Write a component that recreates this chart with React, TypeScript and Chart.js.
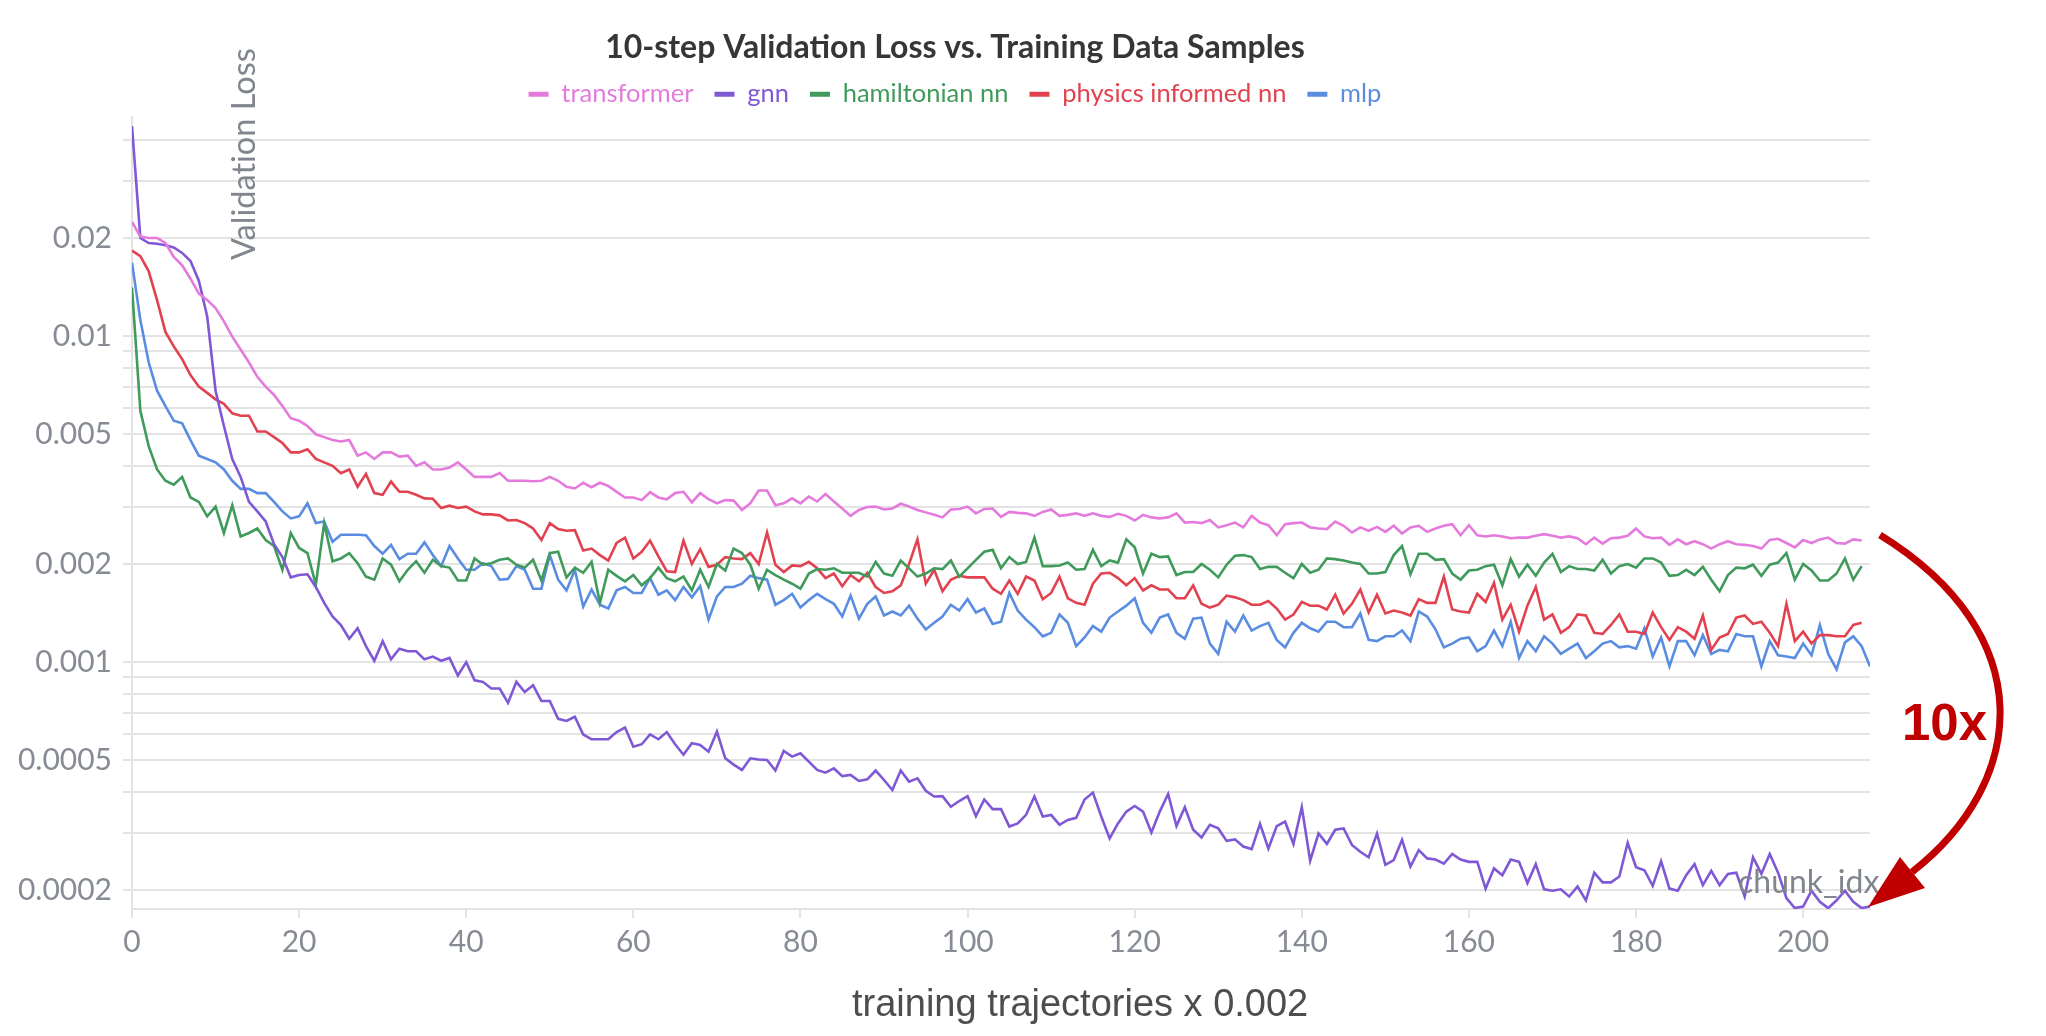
import React, { useEffect, useRef } from 'react';
import { Chart, registerables } from 'chart.js';

Chart.register(...registerables);

// ---------- data ----------
const steps: number[] = Array.from({ length: 209 }, (_, i) => i);

const transformer: number[] = [
  0.0224, 0.0202, 0.0200, 0.0200, 0.0193, 0.0175, 0.0165, 0.0150, 0.0135, 0.0129,
  0.0122, 0.0111, 0.00996, 0.0091, 0.0083, 0.0075, 0.0070, 0.0066, 0.0061, 0.0056,
  0.0055, 0.0053, 0.0050, 0.0049, 0.0048, 0.00475, 0.0048, 0.0043, 0.0044, 0.0042,
  0.0044, 0.0044, 0.00427, 0.0043, 0.0040, 0.0041, 0.0039, 0.0039, 0.00395, 0.0041,
  0.0039, 0.0037, 0.0037, 0.0037, 0.0038, 0.0036, 0.0036, 0.0036, 0.00359, 0.0036,
  0.0037, 0.0036, 0.00345, 0.00341, 0.00355, 0.00344, 0.00355, 0.00347, 0.00333, 0.0032,
  0.0032, 0.00314, 0.00332, 0.0032, 0.00316, 0.0033, 0.00333, 0.00309, 0.0033, 0.00316,
  0.00307, 0.00314, 0.00313, 0.00293, 0.00307, 0.00336, 0.00336, 0.00303, 0.00307, 0.00318,
  0.00307, 0.00322, 0.00311, 0.00328, 0.00311, 0.00296, 0.00281, 0.00293, 0.00299, 0.003,
  0.00294, 0.00296, 0.00306, 0.003, 0.00293, 0.00288, 0.00283, 0.00278, 0.00294, 0.00295,
  0.003, 0.00286, 0.00295, 0.00296, 0.00279, 0.00289, 0.00287, 0.00286, 0.00281, 0.00289,
  0.00294, 0.00281, 0.00283, 0.00286, 0.00281, 0.00286, 0.00281, 0.00279, 0.00285, 0.00281,
  0.00272, 0.00283, 0.00278, 0.00276, 0.00278, 0.00286, 0.00268, 0.00269, 0.00267, 0.00273,
  0.00259, 0.00263, 0.00268, 0.00259, 0.00281, 0.00268, 0.00263, 0.00245, 0.00265, 0.00267,
  0.00268, 0.00259, 0.00257, 0.00256, 0.0027, 0.00262, 0.0025, 0.00259, 0.00253, 0.0026,
  0.00251, 0.00262, 0.00248, 0.00259, 0.00262, 0.00251, 0.00257, 0.00262, 0.00265, 0.00245,
  0.00263, 0.00245, 0.00243, 0.00245, 0.00243, 0.0024, 0.00241, 0.00241, 0.00244, 0.00247,
  0.00244, 0.00241, 0.00243, 0.0024, 0.0023, 0.00241, 0.00231, 0.0024, 0.00241, 0.00244,
  0.00257, 0.00243, 0.0024, 0.00241, 0.00229, 0.00238, 0.0023, 0.00235, 0.0023, 0.00223,
  0.0023, 0.00235, 0.0023, 0.00229, 0.00227, 0.00223, 0.00237, 0.00239, 0.00232, 0.00225,
  0.00237, 0.00232, 0.00238, 0.00241, 0.00232, 0.00231, 0.00238, 0.00236,
];

const gnn: number[] = [
  0.0441, 0.0200, 0.0193, 0.0192, 0.0190, 0.0187, 0.0180, 0.0170, 0.0148, 0.0115,
  0.0068, 0.0053, 0.0042, 0.0037, 0.0031, 0.0029, 0.0027, 0.0023, 0.0021, 0.00182,
  0.00185, 0.00186, 0.0017, 0.00152, 0.00138, 0.0013, 0.00118, 0.00127, 0.00112, 0.00101,
  0.00116, 0.00102, 0.0011, 0.00108, 0.00108, 0.00102, 0.00104, 0.00101, 0.00103, 0.00091,
  0.001, 0.00088, 0.00087, 0.00083, 0.00083, 0.00075, 0.00087, 0.00081, 0.00085, 0.00076,
  0.00076, 0.00067, 0.00066, 0.00068, 0.0006, 0.00058, 0.00058, 0.00058, 0.00061, 0.00063,
  0.00055, 0.00056, 0.0006, 0.00058, 0.00061, 0.00056, 0.00052, 0.000564, 0.000557, 0.000531,
  0.000612, 0.000507, 0.000485, 0.000467, 0.000507, 0.000503, 0.000501, 0.000465, 0.000534, 0.000513,
  0.000525, 0.000495, 0.000467, 0.000458, 0.000472, 0.000447, 0.000451, 0.000432, 0.000437, 0.000465,
  0.000435, 0.000405, 0.000465, 0.00043, 0.00044, 0.000403, 0.000387, 0.000388, 0.00036, 0.000375,
  0.000388, 0.000337, 0.000379, 0.000354, 0.000354, 0.000313, 0.00032, 0.00034, 0.000387, 0.000336,
  0.00034, 0.000317, 0.000328, 0.000333, 0.000379, 0.000398, 0.000336, 0.000288, 0.00032, 0.000348,
  0.000362, 0.000348, 0.0003, 0.000348, 0.000394, 0.000314, 0.000359, 0.000306, 0.00029, 0.000317,
  0.000309, 0.000283, 0.000286, 0.000272, 0.000267, 0.000319, 0.000268, 0.000314, 0.000324, 0.000277,
  0.000359, 0.000246, 0.000298, 0.000277, 0.000306, 0.000309, 0.000275, 0.000262, 0.000252, 0.000298,
  0.000239, 0.000247, 0.000285, 0.000236, 0.000265, 0.00025, 0.000248, 0.000241, 0.000258, 0.000248,
  0.000244, 0.000244, 0.000202, 0.000233, 0.000222, 0.000248, 0.000244, 0.00021, 0.00024, 0.000201,
  0.000199, 0.000201, 0.000191, 0.000205, 0.000186, 0.000226, 0.000211, 0.000211, 0.00022, 0.000279,
  0.000235, 0.00023, 0.000206, 0.000245, 0.000202, 0.000199, 0.000222, 0.00024, 0.000207, 0.000229,
  0.000207, 0.000224, 0.000226, 0.000191, 0.000252, 0.000224, 0.000258, 0.000226, 0.000189, 0.000176,
  0.000178, 0.000199, 0.000184, 0.000176, 0.000186, 0.000199, 0.000184, 0.000176, 0.000178,
];

const hamiltonianNN: number[] = [
  0.0141, 0.0059, 0.0046, 0.0039, 0.0036, 0.0035, 0.0037, 0.0032, 0.0031, 0.0028,
  0.0030, 0.00249, 0.00303, 0.00243, 0.00249, 0.00257, 0.00237, 0.00227, 0.00192, 0.00249,
  0.00224, 0.00216, 0.00173, 0.00267, 0.00204, 0.00208, 0.00216, 0.00201, 0.00183, 0.00179,
  0.00208, 0.00199, 0.00177, 0.00192, 0.00204, 0.00188, 0.00206, 0.00197, 0.00195, 0.00178,
  0.00178, 0.00208, 0.00199, 0.00201, 0.00206, 0.00208, 0.00199, 0.00195, 0.00206, 0.00178,
  0.00216, 0.00218, 0.00182, 0.00195, 0.00188, 0.00203, 0.00152, 0.00192, 0.00184, 0.00177,
  0.00185, 0.00172, 0.00181, 0.00195, 0.00181, 0.00177, 0.00183, 0.00166, 0.00192, 0.0017,
  0.002, 0.00191, 0.00223, 0.00216, 0.00199, 0.00168, 0.00192, 0.00185, 0.00179, 0.00174,
  0.00168, 0.00187, 0.00193, 0.00192, 0.00194, 0.00188, 0.00188, 0.00188, 0.00183, 0.00203,
  0.00187, 0.00184, 0.00205, 0.00194, 0.00183, 0.00187, 0.00194, 0.00193, 0.00205, 0.00183,
  0.00194, 0.00206, 0.00218, 0.00221, 0.00194, 0.0021, 0.002, 0.00203, 0.00241, 0.00197,
  0.00197, 0.00198, 0.00202, 0.00192, 0.00193, 0.00221, 0.00197, 0.00205, 0.00202, 0.00238,
  0.00225, 0.00187, 0.00215, 0.0021, 0.00211, 0.00185, 0.00189, 0.00189, 0.002, 0.00192,
  0.00182, 0.00199, 0.00212, 0.00213, 0.0021, 0.00193, 0.00196, 0.00196, 0.00188, 0.00181,
  0.002, 0.00188, 0.00192, 0.00208, 0.00207, 0.00205, 0.00202, 0.002, 0.00187, 0.00187,
  0.00189, 0.00213, 0.00227, 0.00186, 0.00215, 0.00215, 0.00206, 0.00207, 0.00187, 0.00179,
  0.00191, 0.00192, 0.00197, 0.00199, 0.00172, 0.00207, 0.00183, 0.00199, 0.00184, 0.00202,
  0.00215, 0.00189, 0.00197, 0.00193, 0.00193, 0.00191, 0.00206, 0.00187, 0.00197, 0.002,
  0.00195, 0.00208, 0.00208, 0.00202, 0.00184, 0.00185, 0.00192, 0.00185, 0.00196, 0.00179,
  0.00165, 0.00185, 0.00195, 0.00194, 0.00199, 0.00184, 0.00199, 0.00202, 0.00216, 0.00179,
  0.002, 0.00191, 0.00178, 0.00178, 0.00187, 0.00208, 0.00179, 0.00197,
];

const physicsInformedNN: number[] = [
  0.0183, 0.0176, 0.0158, 0.0129, 0.0103, 0.0093, 0.0085, 0.0076, 0.0070, 0.0067,
  0.0064, 0.0062, 0.0058, 0.0057, 0.0057, 0.0051, 0.0051, 0.0049, 0.0047, 0.0044,
  0.0044, 0.0045, 0.0042, 0.0041, 0.0040, 0.0038, 0.0039, 0.00345, 0.00378, 0.0033,
  0.00326, 0.00358, 0.00333, 0.00333, 0.00326, 0.00318, 0.00317, 0.00297, 0.00302, 0.00297,
  0.003, 0.0029, 0.00284, 0.00284, 0.00282, 0.00272, 0.00273, 0.00267, 0.00257, 0.00237,
  0.00267, 0.00256, 0.00253, 0.00254, 0.0022, 0.00223, 0.00213, 0.00205, 0.00232, 0.00241,
  0.00208, 0.00218, 0.00236, 0.00211, 0.0019, 0.00189, 0.00236, 0.002, 0.00222, 0.00196,
  0.00199, 0.0021, 0.00208, 0.00207, 0.00216, 0.002, 0.0025, 0.00199, 0.00189, 0.00198,
  0.00197, 0.00203, 0.00194, 0.00181, 0.00187, 0.00171, 0.00185, 0.00177, 0.00188, 0.0017,
  0.00163, 0.00165, 0.00172, 0.002, 0.00238, 0.00174, 0.00192, 0.00165, 0.00179, 0.00184,
  0.00182, 0.00182, 0.00182, 0.00168, 0.00162, 0.00178, 0.00162, 0.00183, 0.00178, 0.00156,
  0.00163, 0.00183, 0.00157, 0.00152, 0.0015, 0.00174, 0.00187, 0.00188, 0.00181, 0.00172,
  0.00181, 0.00166, 0.00172, 0.00167, 0.00167, 0.00157, 0.00157, 0.00172, 0.00151, 0.00147,
  0.0015, 0.0016, 0.00158, 0.00155, 0.0015, 0.0015, 0.00154, 0.00146, 0.00135, 0.0014,
  0.00153, 0.00149, 0.00149, 0.00145, 0.00161, 0.00141, 0.00151, 0.00167, 0.00142, 0.00161,
  0.00141, 0.00144, 0.00142, 0.00139, 0.00156, 0.00152, 0.00152, 0.00183, 0.00145, 0.00143,
  0.00142, 0.00162, 0.00153, 0.00175, 0.00135, 0.0015, 0.00124, 0.00149, 0.0017, 0.00135,
  0.0014, 0.00123, 0.00128, 0.0014, 0.00139, 0.00123, 0.00122, 0.0013, 0.0014, 0.00124,
  0.00124, 0.00122, 0.00142, 0.00128, 0.00117, 0.00128, 0.00124, 0.00118, 0.00139, 0.00109,
  0.00119, 0.00122, 0.00137, 0.00139, 0.00131, 0.00133, 0.00123, 0.00112, 0.00151, 0.00116,
  0.00124, 0.00114, 0.00121, 0.00121, 0.0012, 0.0012, 0.0013, 0.00132,
];

const mlp: number[] = [
  0.0168, 0.0112, 0.0083, 0.0068, 0.0061, 0.0055, 0.0054, 0.0048, 0.0043, 0.0042,
  0.0041, 0.0039, 0.0036, 0.0034, 0.0034, 0.0033, 0.0033, 0.0031, 0.0029, 0.00276,
  0.0028, 0.00307, 0.00267, 0.0027, 0.00234, 0.00246, 0.00246, 0.00246, 0.00245, 0.00227,
  0.00215, 0.00229, 0.00207, 0.00215, 0.00215, 0.00233, 0.00213, 0.00197, 0.00227, 0.00208,
  0.00192, 0.00192, 0.00201, 0.00197, 0.00179, 0.0018, 0.00197, 0.00192, 0.00168, 0.00168,
  0.00213, 0.00179, 0.00166, 0.00192, 0.00148, 0.00167, 0.0015, 0.00146, 0.00166, 0.0017,
  0.00163, 0.00163, 0.00181, 0.00161, 0.00166, 0.00155, 0.0017, 0.00158, 0.00171, 0.00135,
  0.00159, 0.0017, 0.0017, 0.00174, 0.00184, 0.00181, 0.00179, 0.0015, 0.00155, 0.00162,
  0.00147, 0.00155, 0.00162, 0.00156, 0.00151, 0.00138, 0.0016, 0.00136, 0.00151, 0.00159,
  0.00139, 0.00143, 0.00139, 0.00149, 0.00136, 0.00126, 0.00132, 0.00138, 0.0015, 0.00144,
  0.00156, 0.00142, 0.00146, 0.00131, 0.00133, 0.00163, 0.00144, 0.00135, 0.00128, 0.0012,
  0.00123, 0.0014, 0.00132, 0.00112, 0.00119, 0.00129, 0.00124, 0.00137, 0.00143, 0.00149,
  0.00157, 0.00132, 0.00123, 0.00137, 0.0014, 0.00123, 0.00118, 0.00136, 0.00137, 0.00114,
  0.00106, 0.00133, 0.00124, 0.00139, 0.00125, 0.00129, 0.00132, 0.00117, 0.00111, 0.00123,
  0.00132, 0.00127, 0.00124, 0.00133, 0.00133, 0.00128, 0.00128, 0.00141, 0.00117, 0.00116,
  0.0012, 0.0012, 0.00125, 0.00116, 0.00143, 0.00138, 0.00126, 0.00111, 0.00114, 0.00118,
  0.00119, 0.00108, 0.00112, 0.00125, 0.00112, 0.00133, 0.00103, 0.00116, 0.00108, 0.0012,
  0.00114, 0.00106, 0.0011, 0.00114, 0.00103, 0.00108, 0.00114, 0.00116, 0.00111, 0.00112,
  0.0011, 0.00127, 0.00104, 0.00119, 0.00097, 0.00116, 0.00116, 0.00105, 0.00121, 0.00106,
  0.00109, 0.00108, 0.00122, 0.0012, 0.0012, 0.00097, 0.00116, 0.00105, 0.00104, 0.00103,
  0.00114, 0.00105, 0.0013, 0.00106, 0.00095, 0.00115, 0.0012, 0.00112, 0.00097,
];

const seriesNames: string[] = ['transformer', 'gnn', 'hamiltonian nn', 'physics informed nn', 'mlp'];
const seriesColors: string[] = ['#e47bdc', '#7f58d6', '#3f9a5b', '#e2424f', '#5a8de2'];
const seriesData: number[][] = [transformer, gnn, hamiltonianNN, physicsInformedNN, mlp];

const xTickValues: number[] = [0, 20, 40, 60, 80, 100, 120, 140, 160, 180, 200];
const yGridValues: number[] = [
  0.0002, 0.0003, 0.0004, 0.0005, 0.0006, 0.0007, 0.0008, 0.0009,
  0.001, 0.002, 0.003, 0.004, 0.005, 0.006, 0.007, 0.008, 0.009,
  0.01, 0.02, 0.03, 0.04,
];
const yLabelValues: number[] = [0.0002, 0.0005, 0.001, 0.002, 0.005, 0.01, 0.02];

const TITLE = '10-step Validation Loss vs. Training Data Samples';

// ---------- layout constants ----------
const W = 1910;
const H = 1036;
const FONT = "Lato, 'Noto Sans', sans-serif";
const TICK_COLOR = '#868b94';
const GRID_COLOR = '#e3e3e3';
// y-axis calibration: pixel rows of the 0.02 and 0.0002 grid lines
const Y_HI_VALUE = 0.02;
const Y_LO_VALUE = 0.0002;
const Y_HI_PX = 238;
const Y_LO_PX = 890;

const yCalibration = {
  id: 'yCalibration',
  afterLayout(chart: any) {
    const y = chart.scales.y;
    if (!y) return;
    const ppd = (Y_LO_PX - Y_HI_PX) / (Math.log10(Y_HI_VALUE) - Math.log10(Y_LO_VALUE));
    y.max = Math.pow(10, Math.log10(Y_HI_VALUE) + (Y_HI_PX - y.top) / ppd);
    y.min = Math.pow(10, Math.log10(Y_LO_VALUE) - (y.bottom - Y_LO_PX) / ppd);
    y.configure();
  },
};

export default function App() {
  const canvasRef = useRef<HTMLCanvasElement | null>(null);

  useEffect(() => {
    const canvas = canvasRef.current;
    if (!canvas) return;
    const chart = new Chart(canvas, {
      type: 'line',
      data: {
        labels: steps,
        datasets: seriesData.map((d, i) => ({
          label: seriesNames[i],
          data: d,
          borderColor: seriesColors[i],
          backgroundColor: seriesColors[i],
          borderWidth: 2.6,
          pointRadius: 0,
          tension: 0,
          fill: false,
          yAxisID: 'y',
          xAxisID: 'x',
        })),
      },
      plugins: [yCalibration],
      options: {
        animation: false,
        responsive: false,
        maintainAspectRatio: false,
        events: [],
        layout: { padding: { left: 0, right: 0, top: 0, bottom: 0 } },
        plugins: {
          tooltip: { enabled: false },
          title: {
            display: true,
            text: TITLE,
            color: '#363636',
            font: { family: FONT, size: 32, weight: 'bold' },
            padding: { top: 28, bottom: -6 },
          },
          legend: {
            display: true,
            position: 'top',
            labels: {
              font: { family: FONT, size: 25.5 },
              boxWidth: 20,
              boxHeight: 5,
              padding: 21,
              generateLabels: (ch: any) => {
                const items = (Chart.defaults.plugins.legend.labels as any).generateLabels(ch);
                return items.map((it: any, i: number) => ({
                  ...it,
                  fillStyle: seriesColors[i],
                  strokeStyle: seriesColors[i],
                  fontColor: seriesColors[i],
                  lineWidth: 0,
                }));
              },
            },
          },
        },
        scales: {
          x: {
            type: 'linear',
            min: 0,
            max: 208,
            afterBuildTicks: (s: any) => {
              s.ticks = xTickValues.map((v) => ({ value: v }));
            },
            afterFit: (s: any) => {
              s.height = 127;
            },
            grid: {
              display: true,
              drawOnChartArea: false,
              drawTicks: true,
              tickLength: 9,
              color: GRID_COLOR,
              lineWidth: 2,
            },
            border: { display: true, color: GRID_COLOR, width: 2 },
            ticks: {
              autoSkip: false,
              maxRotation: 0,
              padding: 6,
              color: TICK_COLOR,
              font: { family: FONT, size: 30 },
            },
          },
          y: {
            type: 'logarithmic',
            position: 'left',
            min: 0.000175,
            max: 0.046,
            afterBuildTicks: (s: any) => {
              s.ticks = yGridValues.map((v) => ({ value: v }));
            },
            afterFit: (s: any) => {
              s.width = 132;
            },
            grid: {
              display: true,
              drawOnChartArea: true,
              drawTicks: true,
              tickLength: 9,
              color: GRID_COLOR,
              lineWidth: 2,
            },
            border: { display: true, color: GRID_COLOR, width: 2 },
            ticks: {
              autoSkip: false,
              padding: 11,
              color: TICK_COLOR,
              font: { family: FONT, size: 30 },
              callback: (v: any) => (yLabelValues.indexOf(Number(v)) >= 0 ? String(v) : ''),
            },
          },
          // empty right-hand axis: only reserves the space to the right of the plot
          yRightSpace: {
            type: 'linear',
            position: 'right',
            display: true,
            grid: { display: false, drawTicks: false },
            border: { display: false },
            ticks: { display: false },
            afterFit: (s: any) => {
              s.width = 40;
            },
          },
        },
      } as any,
    });
    return () => chart.destroy();
  }, []);

  return (
    <div
      style={{
        position: 'absolute',
        left: 0,
        top: 0,
        width: 2046,
        height: 1036,
        overflow: 'hidden',
        background: '#ffffff',
      }}
    >
      <canvas
        ref={canvasRef}
        width={W}
        height={H}
        style={{ position: 'absolute', left: 0, top: 0, width: W, height: H }}
      />
      <div
        style={{
          position: 'absolute',
          left: 226.6,
          top: 260,
          transformOrigin: '0 0',
          transform: 'rotate(-90deg)',
          whiteSpace: 'nowrap',
          fontFamily: FONT,
          fontSize: 32.5,
          lineHeight: '32px',
          fontVariantLigatures: 'none',
          color: '#80858e',
        }}
      >
        Validation Loss
      </div>
      <div
        style={{
          position: 'absolute',
          left: 1738,
          top: 864.6,
          whiteSpace: 'nowrap',
          fontFamily: FONT,
          fontSize: 32,
          lineHeight: '32px',
          fontVariantLigatures: 'none',
          color: '#80858e',
        }}
      >
        chunk_idx
      </div>
      <div
        style={{
          position: 'absolute',
          left: 852,
          top: 983.5,
          whiteSpace: 'nowrap',
          fontFamily: "'Liberation Sans', Arial, sans-serif",
          fontSize: 38,
          lineHeight: '38px',
          color: '#4d4d4d',
        }}
      >
        training trajectories x 0.002
      </div>
      <div
        style={{
          position: 'absolute',
          left: 1902,
          top: 697,
          whiteSpace: 'nowrap',
          fontFamily: "'Liberation Sans', Arial, sans-serif",
          fontWeight: 'bold',
          fontSize: 51,
          lineHeight: '51px',
          color: '#c00000',
        }}
      >
        10x
      </div>
      <svg
        width={2046}
        height={1036}
        style={{ position: 'absolute', left: 0, top: 0, pointerEvents: 'none' }}
      >
        <path
          d="M1880 535 C2041.6 634.6 2027.7 781.7 1912 872"
          stroke="#c00000"
          strokeWidth={7}
          fill="none"
        />
        <polygon points="1868,907 1900,857 1925,888" fill="#c00000" />
      </svg>
    </div>
  );
}
